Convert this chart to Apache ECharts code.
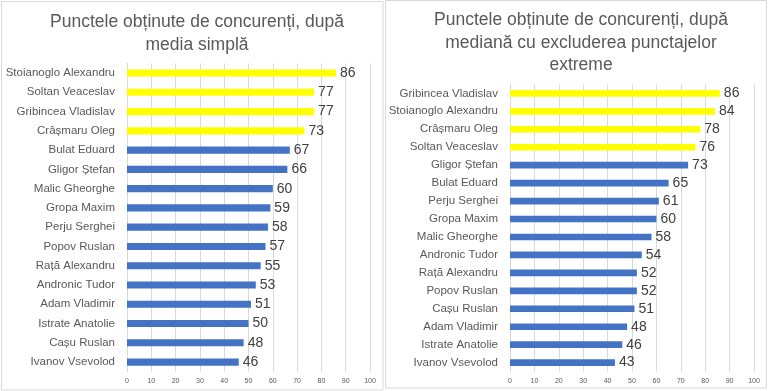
<!DOCTYPE html>
<html>
<head>
<meta charset="utf-8">
<script src="https://cdn.jsdelivr.net/npm/echarts@6/dist/echarts.min.js"></script>
<style>
  html, body { margin: 0; padding: 0; background: #ffffff; }
  #chart { width: 768px; height: 391px; }
</style>
</head>
<body>
<div id="chart"></div>
<script>
// ---- Data ----
const leftTitle = 'Punctele obținute de concurenți, după\nmedia simplă';
const leftNames = ['Stoianoglo Alexandru', 'Soltan Veaceslav', 'Gribincea Vladislav', 'Crâșmaru Oleg',
  'Bulat Eduard', 'Gligor Ștefan', 'Malic Gheorghe', 'Gropa Maxim', 'Perju Serghei', 'Popov Ruslan',
  'Rață Alexandru', 'Andronic Tudor', 'Adam Vladimir', 'Istrate Anatolie', 'Cașu Ruslan', 'Ivanov Vsevolod'];
const leftValues = [86, 77, 77, 73, 67, 66, 60, 59, 58, 57, 55, 53, 51, 50, 48, 46];

const rightTitle = 'Punctele obținute de concurenți, după\nmediană cu excluderea punctajelor\nextreme';
const rightNames = ['Gribincea Vladislav', 'Stoianoglo Alexandru', 'Crâșmaru Oleg', 'Soltan Veaceslav',
  'Gligor Ștefan', 'Bulat Eduard', 'Perju Serghei', 'Gropa Maxim', 'Malic Gheorghe', 'Andronic Tudor',
  'Rață Alexandru', 'Popov Ruslan', 'Cașu Ruslan', 'Adam Vladimir', 'Istrate Anatolie', 'Ivanov Vsevolod'];
const rightValues = [86, 84, 78, 76, 73, 65, 61, 60, 58, 54, 52, 52, 51, 48, 46, 43];

const axisMin = 0, axisMax = 100, axisStep = 10;
const highlightedCount = 4; // top entries drawn in yellow

// ---- Styles ----
const FONT = '"Liberation Sans", Arial, sans-serif';
const YELLOW = '#FFFF00';
const BLUE = '#4472C4';
const GRAY_TEXT = '#595959';
const GRID_LINE = '#D9D9D9';

function colored(values) {
  return values.map((v, i) => ({
    value: v,
    itemStyle: { color: i < highlightedCount ? YELLOW : BLUE }
  }));
}

function xAxis(gridIndex) {
  return {
    type: 'value', gridIndex, min: axisMin, max: axisMax, interval: axisStep,
    axisLine: { show: false }, axisTick: { show: false },
    splitLine: { show: true, lineStyle: { color: GRID_LINE, width: 1 } },
    axisLabel: { color: GRAY_TEXT, fontSize: 7, fontFamily: FONT, margin: 6 }
  };
}
function yAxis(gridIndex, names) {
  return {
    type: 'category', gridIndex, data: names, inverse: true,
    axisLine: { show: true, lineStyle: { color: GRID_LINE } },
    axisTick: { show: false },
    axisLabel: { color: GRAY_TEXT, fontSize: 11.5, fontFamily: FONT, margin: 12 }
  };
}
function barSeries(idx, values) {
  return {
    type: 'bar', xAxisIndex: idx, yAxisIndex: idx, data: colored(values),
    barWidth: '37%',
    label: { show: true, position: 'right', distance: 4, color: '#404040', fontSize: 14, fontFamily: FONT },
    silent: true, animation: false
  };
}

const chart = echarts.init(document.getElementById('chart'), null, { renderer: 'canvas' });
chart.setOption({
  backgroundColor: '#ffffff',
  animation: false,
  graphic: [
    { type: 'rect', shape: { x: 1.5, y: 1.5, width: 381.5, height: 388.5 },
      style: { fill: 'none', stroke: GRID_LINE, lineWidth: 1 }, silent: true },
    { type: 'rect', shape: { x: 385.5, y: 0.5, width: 381, height: 387.5 },
      style: { fill: 'none', stroke: GRID_LINE, lineWidth: 1 }, silent: true }
  ],
  title: [
    { text: leftTitle, left: 192, top: 6, textAlign: 'center',
      textStyle: { color: GRAY_TEXT, fontSize: 17.5, fontWeight: 'normal', fontFamily: FONT, lineHeight: 23 } },
    { text: rightTitle, left: 576, top: 4, textAlign: 'center',
      textStyle: { color: GRAY_TEXT, fontSize: 17.5, fontWeight: 'normal', fontFamily: FONT, lineHeight: 22.5 } }
  ],
  grid: [
    { left: 127, top: 63.4, width: 243, height: 308.3 },
    { left: 510, top: 84.4, width: 244, height: 287.2 }
  ],
  xAxis: [xAxis(0), xAxis(1)],
  yAxis: [yAxis(0, leftNames), yAxis(1, rightNames)],
  series: [barSeries(0, leftValues), barSeries(1, rightValues)]
});
</script>
</body>
</html>
